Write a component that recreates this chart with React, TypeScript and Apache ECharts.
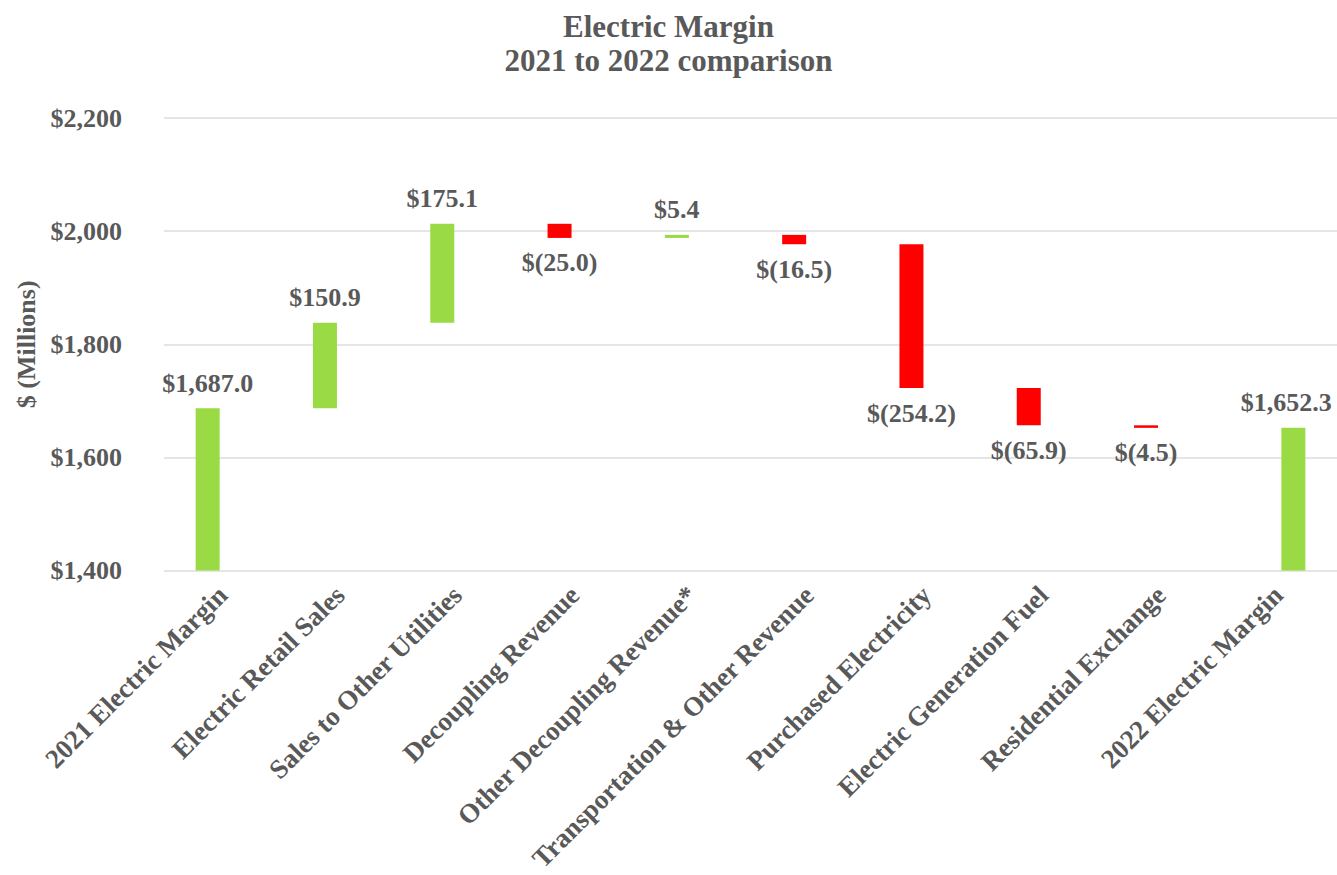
import React, { useEffect, useRef } from "react";
import * as echarts from "echarts";

const categories = [
  "2021 Electric Margin",
  "Electric Retail Sales",
  "Sales to Other Utilities",
  "Decoupling Revenue",
  "Other Decoupling Revenue*",
  "Transportation & Other Revenue",
  "Purchased Electricity",
  "Electric Generation Fuel",
  "Residential Exchange",
  "2022 Electric Margin",
];
const startTotal = 1687.0;
const changes = [150.9, 175.1, -25.0, 5.4, -16.5, -254.2, -65.9, -4.5];
const endTotal = 1652.3;
const yTicks = { min: 1400, max: 2200, interval: 200 };

const GREEN = "#9ADA45";
const RED = "#FF0000";
const TEXT = "#595959";
const FONT = "'Liberation Serif', 'Times New Roman', serif";

const money = (v: number) =>
  v.toLocaleString("en-US", { minimumFractionDigits: 1, maximumFractionDigits: 1 });

export default function App() {
  const ref = useRef<HTMLDivElement>(null);
  useEffect(() => {
    if (!ref.current) return;
    const chart = echarts.init(ref.current, undefined, { renderer: "svg" });

    const n = categories.length;
    const base: (number | string)[] = Array(n).fill("-");
    const up: (number | string)[] = Array(n).fill("-");
    const down: (number | string)[] = Array(n).fill("-");
    const start: (number | string)[] = Array(n).fill("-");
    const end: (number | string)[] = Array(n).fill("-");
    start[0] = startTotal;
    let cum = startTotal;
    changes.forEach((c, i) => {
      const idx = i + 1;
      if (c >= 0) {
        base[idx] = cum;
        up[idx] = c;
      } else {
        base[idx] = cum + c;
        down[idx] = -c;
      }
      cum += c;
    });
    end[n - 1] = endTotal;

    const labelStyle = {
      show: true,
      fontFamily: FONT,
      fontSize: 26,
      fontWeight: "bold" as const,
      color: TEXT,
    };

    const common = { type: "bar" as const, barWidth: 24, barGap: "25%" };

    chart.setOption({
      animation: false,
      backgroundColor: "#ffffff",
      title: {
        text: "Electric Margin\n2021 to 2022 comparison",
        left: "center",
        top: 4,
        textStyle: {
          fontFamily: FONT,
          fontSize: 31,
          fontWeight: "bold",
          color: TEXT,
          lineHeight: 34,
        },
      },
      grid: { left: 164, right: 0, top: 118, bottom: 303, containLabel: false },
      xAxis: {
        type: "category",
        data: categories,
        axisLine: { show: false },
        axisTick: { show: false },
        axisLabel: {
          interval: 0,
          rotate: 45,
          margin: 20,
          fontFamily: FONT,
          fontSize: 27,
          fontWeight: "bold",
          color: TEXT,
        },
      },
      yAxis: {
        type: "value",
        min: yTicks.min,
        max: yTicks.max,
        interval: yTicks.interval,
        name: "$ (Millions)",
        nameLocation: "middle",
        nameRotate: 90,
        nameGap: 124,
        nameTextStyle: {
          fontFamily: FONT,
          fontSize: 26,
          fontWeight: "bold",
          color: TEXT,
        },
        axisLine: { show: false },
        axisTick: { show: false },
        splitLine: { lineStyle: { color: "#dcdcdc", width: 1.5 } },
        axisLabel: {
          margin: 42,
          formatter: (v: number) => "$" + v.toLocaleString("en-US"),
          fontFamily: FONT,
          fontSize: 26,
          fontWeight: "bold",
          color: TEXT,
        },
      },
      series: [
        {
          ...common,
          name: "base",
          stack: "a",
          data: base,
          itemStyle: { color: "transparent" },
          emphasis: { disabled: true },
          silent: true,
        },
        {
          ...common,
          name: "start",
          stack: "a",
          data: start,
          itemStyle: { color: GREEN },
          label: {
            ...labelStyle,
            position: "top",
            distance: 12,
            formatter: (p: any) => "$" + money(p.value),
          },
        },
        {
          ...common,
          name: "increase",
          stack: "a",
          data: up,
          itemStyle: { color: GREEN },
          label: {
            ...labelStyle,
            position: "top",
            distance: 12,
            formatter: (p: any) => "$" + money(p.value),
          },
        },
        {
          ...common,
          name: "decrease",
          stack: "a",
          data: down,
          itemStyle: { color: RED },
          label: {
            ...labelStyle,
            position: "bottom",
            distance: 12,
            formatter: (p: any) => "$(" + money(p.value) + ")",
          },
        },
        {
          ...common,
          name: "end",
          stack: "b",
          data: end,
          itemStyle: { color: GREEN },
          label: {
            ...labelStyle,
            position: "top",
            distance: 12,
            offset: [-7, 0],
            formatter: (p: any) => "$" + money(p.value),
          },
        },
      ],
    });
    return () => chart.dispose();
  }, []);

  return (
    <div
      ref={ref}
      style={{ position: "absolute", left: 0, top: 0, width: 1337, height: 875 }}
    />
  );
}
